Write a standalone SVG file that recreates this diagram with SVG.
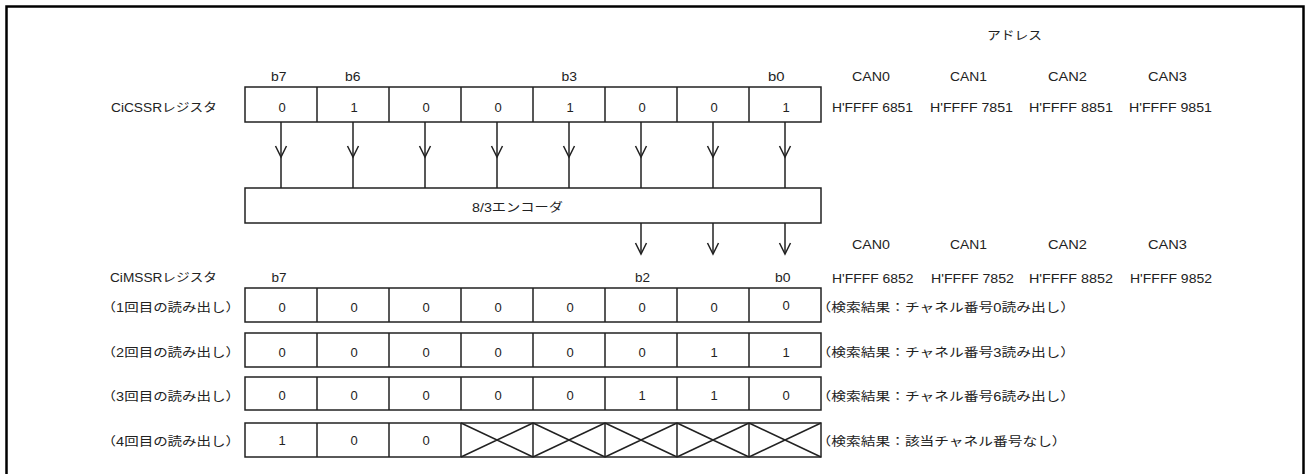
<svg xmlns="http://www.w3.org/2000/svg" width="1309" height="474" viewBox="0 0 1309 474">
<style>
.t{font-family:"Liberation Sans","Noto Sans CJK JP",sans-serif;font-size:12px;fill:#222}
.d{font-family:"Liberation Sans",sans-serif;font-size:13px;fill:#222;text-anchor:middle}
.box{fill:#fff;stroke:#222;stroke-width:1.5}
.ln{stroke:#222;stroke-width:1.5;fill:none}
.frame{fill:none;stroke:#000;stroke-width:2.5}
</style>
<defs>
<marker id="ah" markerUnits="userSpaceOnUse" viewBox="-13 -7 15 14" refX="0" refY="0" markerWidth="15" markerHeight="14" orient="auto">
<path d="M-11,-5.5 L0,0 L-11,5.5" fill="none" stroke="#222" stroke-width="1.5"/>
</marker>
</defs>
<rect class="frame" x="6.5" y="6.5" width="1297" height="480"/>

<text class="t" x="987" y="40" textLength="55" lengthAdjust="spacingAndGlyphs">アドレス</text>

<g id="cicssr">
<text class="t" x="111" y="111.5" textLength="106" lengthAdjust="spacingAndGlyphs">CiCSSRレジスタ</text>
<text class="t" x="271" y="80.5" textLength="15.5" lengthAdjust="spacingAndGlyphs">b7</text>
<text class="t" x="345" y="80.5" textLength="15.5" lengthAdjust="spacingAndGlyphs">b6</text>
<text class="t" x="561.5" y="80.5" textLength="15.5" lengthAdjust="spacingAndGlyphs">b3</text>
<text class="t" x="768" y="80.5" textLength="16.5" lengthAdjust="spacingAndGlyphs">b0</text>
<rect class="box" x="245" y="87" width="576" height="35"/>
<path class="ln" d="M317 87V122M389 87V122M461 87V122M533 87V122M605 87V122M677 87V122M749 87V122"/>
<text class="d" x="282" y="111.5">0</text>
<text class="d" x="354" y="111.5">1</text>
<text class="d" x="426" y="111.5">0</text>
<text class="d" x="498" y="111.5">0</text>
<text class="d" x="570" y="111.5">1</text>
<text class="d" x="642" y="111.5">0</text>
<text class="d" x="714" y="111.5">0</text>
<text class="d" x="786" y="111.5">1</text>
</g>

<g id="addr1">
<text class="t" x="852" y="81" textLength="38" lengthAdjust="spacingAndGlyphs">CAN0</text>
<text class="t" x="950" y="81" textLength="37" lengthAdjust="spacingAndGlyphs">CAN1</text>
<text class="t" x="1048" y="81" textLength="39" lengthAdjust="spacingAndGlyphs">CAN2</text>
<text class="t" x="1148" y="81" textLength="39" lengthAdjust="spacingAndGlyphs">CAN3</text>
<text class="t" x="832" y="111.5" textLength="81" lengthAdjust="spacingAndGlyphs">H'FFFF 6851</text>
<text class="t" x="930" y="111.5" textLength="83" lengthAdjust="spacingAndGlyphs">H'FFFF 7851</text>
<text class="t" x="1029" y="111.5" textLength="84" lengthAdjust="spacingAndGlyphs">H'FFFF 8851</text>
<text class="t" x="1129" y="111.5" textLength="83" lengthAdjust="spacingAndGlyphs">H'FFFF 9851</text>
</g>

<g id="encoder">
<rect class="box" x="245" y="188" width="576" height="35"/>
<text class="t" x="472" y="211.5" textLength="91" lengthAdjust="spacingAndGlyphs">8/3エンコーダ</text>
</g>

<g id="connectors">
<path class="ln" marker-end="url(#ah)" d="M281 122V157"/>
<path class="ln" marker-end="url(#ah)" d="M353 122V157"/>
<path class="ln" marker-end="url(#ah)" d="M425 122V157"/>
<path class="ln" marker-end="url(#ah)" d="M497 122V157"/>
<path class="ln" marker-end="url(#ah)" d="M569 122V157"/>
<path class="ln" marker-end="url(#ah)" d="M641 122V157"/>
<path class="ln" marker-end="url(#ah)" d="M713 122V157"/>
<path class="ln" marker-end="url(#ah)" d="M785 122V157"/>
<path class="ln" d="M281 157V188M353 157V188M425 157V188M497 157V188M569 157V188M641 157V188M713 157V188M785 157V188"/>
<path class="ln" marker-end="url(#ah)" d="M641 223V254"/>
<path class="ln" marker-end="url(#ah)" d="M713 223V254"/>
<path class="ln" marker-end="url(#ah)" d="M785 223V254"/>
</g>

<g id="addr2">
<text class="t" x="852" y="249" textLength="38" lengthAdjust="spacingAndGlyphs">CAN0</text>
<text class="t" x="950" y="249" textLength="37" lengthAdjust="spacingAndGlyphs">CAN1</text>
<text class="t" x="1048" y="249" textLength="39" lengthAdjust="spacingAndGlyphs">CAN2</text>
<text class="t" x="1148" y="249" textLength="39" lengthAdjust="spacingAndGlyphs">CAN3</text>
<text class="t" x="832" y="282.5" textLength="81.5" lengthAdjust="spacingAndGlyphs">H'FFFF 6852</text>
<text class="t" x="931" y="282.5" textLength="83" lengthAdjust="spacingAndGlyphs">H'FFFF 7852</text>
<text class="t" x="1029" y="282.5" textLength="84" lengthAdjust="spacingAndGlyphs">H'FFFF 8852</text>
<text class="t" x="1130" y="282.5" textLength="82" lengthAdjust="spacingAndGlyphs">H'FFFF 9852</text>
</g>

<g id="cimssr-head">
<text class="t" x="110" y="282" textLength="107" lengthAdjust="spacingAndGlyphs">CiMSSRレジスタ</text>
<text class="t" x="271.5" y="282" textLength="15" lengthAdjust="spacingAndGlyphs">b7</text>
<text class="t" x="635" y="282" textLength="15" lengthAdjust="spacingAndGlyphs">b2</text>
<text class="t" x="775" y="282" textLength="15.5" lengthAdjust="spacingAndGlyphs">b0</text>
</g>

<g id="read1">
<text class="t" x="101.6" y="311.5" textLength="138.5" lengthAdjust="spacingAndGlyphs">（1回目の読み出し）</text>
<rect class="box" x="245" y="288" width="576" height="34"/>
<path class="ln" d="M317 288V322M389 288V322M461 288V322M533 288V322M605 288V322M677 288V322M749 288V322"/>
<text class="d" x="282" y="311.5">0</text>
<text class="d" x="354" y="311.5">0</text>
<text class="d" x="426" y="311.5">0</text>
<text class="d" x="498" y="311.5">0</text>
<text class="d" x="570" y="311.5">0</text>
<text class="d" x="642" y="311.5">0</text>
<text class="d" x="714" y="311.5">0</text>
<text class="d" x="786" y="310">0</text>
<text class="t" x="816.6" y="311.5" textLength="258.5" lengthAdjust="spacingAndGlyphs">（検索結果：チャネル番号0読み出し）</text>
</g>

<g id="read2">
<text class="t" x="101.6" y="356.5" textLength="138.5" lengthAdjust="spacingAndGlyphs">（2回目の読み出し）</text>
<rect class="box" x="245" y="333" width="576" height="34"/>
<path class="ln" d="M317 333V367M389 333V367M461 333V367M533 333V367M605 333V367M677 333V367M749 333V367"/>
<text class="d" x="282" y="356.5">0</text>
<text class="d" x="354" y="356.5">0</text>
<text class="d" x="426" y="356.5">0</text>
<text class="d" x="498" y="356.5">0</text>
<text class="d" x="570" y="356.5">0</text>
<text class="d" x="642" y="356.5">0</text>
<text class="d" x="714" y="356.5">1</text>
<text class="d" x="786" y="356.5">1</text>
<text class="t" x="816.6" y="356.5" textLength="258.5" lengthAdjust="spacingAndGlyphs">（検索結果：チャネル番号3読み出し）</text>
</g>

<g id="read3">
<text class="t" x="101.6" y="400.5" textLength="138.5" lengthAdjust="spacingAndGlyphs">（3回目の読み出し）</text>
<rect class="box" x="245" y="377" width="576" height="33"/>
<path class="ln" d="M317 377V410M389 377V410M461 377V410M533 377V410M605 377V410M677 377V410M749 377V410"/>
<text class="d" x="282" y="400">0</text>
<text class="d" x="354" y="400">0</text>
<text class="d" x="426" y="400">0</text>
<text class="d" x="498" y="400">0</text>
<text class="d" x="570" y="400">0</text>
<text class="d" x="642" y="400">1</text>
<text class="d" x="714" y="400">1</text>
<text class="d" x="786" y="400">0</text>
<text class="t" x="816.6" y="400.5" textLength="258.5" lengthAdjust="spacingAndGlyphs">（検索結果：チャネル番号6読み出し）</text>
</g>

<g id="read4">
<text class="t" x="101.6" y="446" textLength="138.5" lengthAdjust="spacingAndGlyphs">（4回目の読み出し）</text>
<rect class="box" x="245" y="423" width="576" height="34"/>
<path class="ln" d="M317 423V457M389 423V457M461 423V457M533 423V457M605 423V457M677 423V457M749 423V457"/>
<text class="d" x="282" y="445">1</text>
<text class="d" x="354" y="445">0</text>
<text class="d" x="426" y="445">0</text>
<path class="ln" d="M461 423L533 457M461 457L533 423M533 423L605 457M533 457L605 423M605 423L677 457M605 457L677 423M677 423L749 457M677 457L749 423M749 423L821 457M749 457L821 423"/>
<text class="t" x="816.6" y="446" textLength="250" lengthAdjust="spacingAndGlyphs">（検索結果：該当チャネル番号なし）</text>
</g>
</svg>
